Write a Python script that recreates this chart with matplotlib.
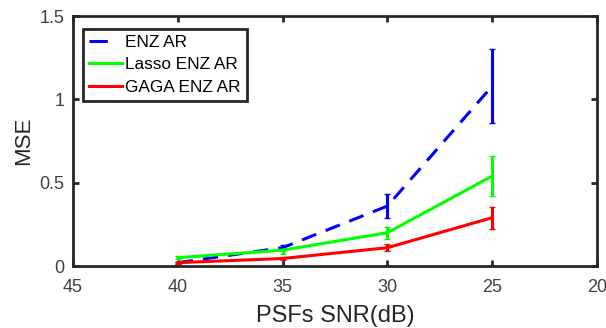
import numpy as np
import matplotlib.pyplot as plt
from matplotlib.lines import Line2D

plt.rcParams['font.family'] = ['Liberation Sans', 'DejaVu Sans']

snr = [40, 35, 30, 25]

enz_mean = [0.02, 0.11, 0.36, 1.08]
enz_err = [0.005, 0.015, 0.07, 0.22]

lasso_mean = [0.05, 0.095, 0.20, 0.54]
lasso_err = [0.008, 0.02, 0.035, 0.12]

gaga_mean = [0.02, 0.045, 0.11, 0.29]
gaga_err = [0.005, 0.008, 0.02, 0.065]

fig = plt.figure(figsize=(6.06, 3.28), dpi=100)
ax = fig.add_axes([0.1205, 0.189, 0.8647, 0.762])

lw = 2.2
ax.errorbar(snr, enz_mean, yerr=enz_err, color='#0000ff', linestyle='--',
            dashes=(5, 3.3), linewidth=lw, capsize=2, elinewidth=lw)
ax.errorbar(snr, lasso_mean, yerr=lasso_err, color='#00ff00', linewidth=lw,
            capsize=2, elinewidth=lw)
ax.errorbar(snr, gaga_mean, yerr=gaga_err, color='#ff0000', linewidth=lw,
            capsize=2, elinewidth=lw)

ax.set_xlim(45, 20)
ax.set_ylim(0, 1.5)
ax.set_xticks([45, 40, 35, 30, 25, 20])
ax.set_yticks([0, 0.5, 1, 1.5])
ax.set_yticklabels(['0', '0.5', '1', '1.5'])

for s in ax.spines.values():
    s.set_linewidth(2)
    s.set_color('#262626')
ax.tick_params(direction='in', top=True, right=True, length=4, width=2,
               labelsize=13, colors='#262626', labelcolor='#404040')
ax.tick_params(axis='x', pad=9)
ax.tick_params(axis='y', pad=6)

ax.set_xlabel('PSFs SNR(dB)', fontsize=17, color='#262626', labelpad=7)
ax.set_ylabel('MSE', fontsize=16, color='#262626', labelpad=4)

# legend handles: plain lines, no error bars
handles = [
    Line2D([], [], color='#0000ff', linestyle='--', dashes=(6, 12), linewidth=lw),
    Line2D([], [], color='#00ff00', linewidth=lw),
    Line2D([], [], color='#ff0000', linewidth=lw),
]
labels = ['ENZ AR', 'Lasso ENZ AR', 'GAGA ENZ AR']
leg = ax.legend(handles, labels, loc='upper left', fontsize=12.4,
                handlelength=1.9, fancybox=False, framealpha=1,
                bbox_to_anchor=(10 / 524, 1 - 13 / 250), borderaxespad=0,
                borderpad=0.35, labelspacing=0.42, handletextpad=0.2)
leg.get_frame().set_edgecolor('#262626')
leg.get_frame().set_linewidth(2)

fig.savefig('out.png', dpi=100)
